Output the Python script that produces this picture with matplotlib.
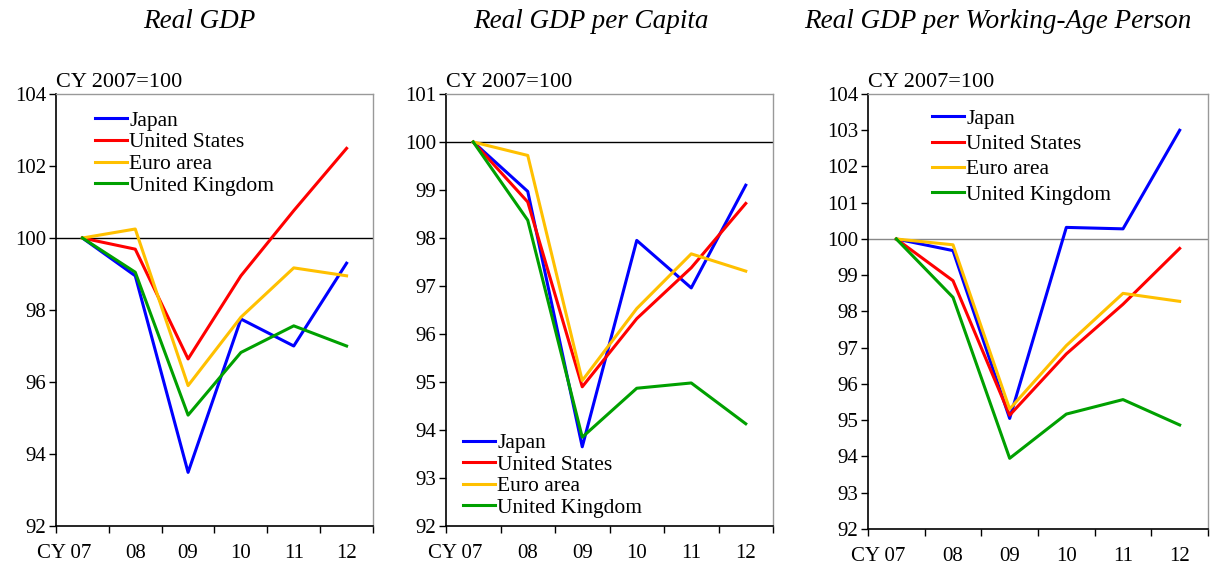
import matplotlib
matplotlib.use("Agg")
import matplotlib.pyplot as plt
import matplotlib.transforms as mtransforms
from matplotlib.ticker import MultipleLocator, FixedLocator

plt.rcParams['font.family'] = ['Liberation Serif', 'DejaVu Serif']

years = ["CY 07", "08", "09", "10", "11", "12"]
countries = ["Japan", "United States", "Euro area", "United Kingdom"]
colors = ["#0000FF", "#FF0000", "#FFC000", "#00A000"]

# Real GDP
gdp = {
    "Japan":          [100, 98.95, 93.49, 97.75, 97.00, 99.30],
    "United States":  [100, 99.69, 96.64, 98.95, 100.76, 102.49],
    "Euro area":      [100, 100.25, 95.90, 97.80, 99.17, 98.95],
    "United Kingdom": [100, 99.05, 95.08, 96.82, 97.56, 97.00],
}
# Real GDP per capita
gdp_pc = {
    "Japan":          [100, 98.97, 93.65, 97.95, 96.96, 99.10],
    "United States":  [100, 98.75, 94.90, 96.32, 97.38, 98.72],
    "Euro area":      [100, 99.72, 95.03, 96.53, 97.67, 97.31],
    "United Kingdom": [100, 98.37, 93.85, 94.87, 94.98, 94.13],
}
# Real GDP per working-age person
gdp_wa = {
    "Japan":          [100, 99.68, 95.05, 100.32, 100.28, 103.00],
    "United States":  [100, 98.85, 95.14, 96.83, 98.20, 99.74],
    "Euro area":      [100, 99.84, 95.31, 97.06, 98.50, 98.28],
    "United Kingdom": [100, 98.39, 93.95, 95.17, 95.57, 94.87],
}

titles = ["Real GDP", "Real GDP per Capita", "Real GDP per Working-Age Person"]
title_x = [199, 591, 998]
panels = [gdp, gdp_pc, gdp_wa]
ylims = [(92, 104), (92, 101), (92, 104)]
ysteps = [2, 1, 1]
base_colors = ["black", "black", "#888888"]
rects = [
    [56 / 1210, 44 / 570, 317 / 1210, 432 / 570],
    [446 / 1210, 44 / 570, 327 / 1210, 432 / 570],
    [868 / 1210, 41 / 570, 340 / 1210, 435 / 570],
]
legend_locs = [
    dict(loc="upper left", bbox_to_anchor=(0.123, 0.961), labelspacing=0.07),
    dict(loc="lower left", bbox_to_anchor=(0.052, 0.019), labelspacing=0.07),
    dict(loc="upper left", bbox_to_anchor=(0.188, 0.966), labelspacing=0.24),
]

fig = plt.figure(figsize=(12.1, 5.7), dpi=100)

for i, data in enumerate(panels):
    ax = fig.add_axes(rects[i])
    x = list(range(len(years)))
    for name, c in zip(countries, colors):
        ax.plot(x, data[name], color=c, lw=2.2, label=name)
    ax.axhline(100, color=base_colors[i], lw=1.0, zorder=1)

    ax.set_xlim(-0.5, len(years) - 0.5)
    ax.set_ylim(*ylims[i])
    ax.yaxis.set_major_locator(MultipleLocator(ysteps[i]))
    ax.xaxis.set_major_locator(FixedLocator([k - 0.5 for k in range(len(years) + 1)]))
    ax.xaxis.set_minor_locator(FixedLocator(x))
    ax.set_xticklabels([])
    ax.set_xticklabels(years, minor=True)
    ax.tick_params(axis="x", which="major", direction="out", length=5, width=1)
    ax.tick_params(axis="x", which="minor", length=0, pad=13, labelsize=15)
    ax.tick_params(axis="y", direction="out", length=5, width=1, labelsize=15, pad=2)

    # shift "CY 07" so that "07" sits under the first point
    lbl = ax.xaxis.get_minorticklabels()[0]
    lbl.set_transform(lbl.get_transform() +
                      mtransforms.ScaledTranslation(-13 / 72, 0, fig.dpi_scale_trans))

    for side in ["left", "bottom"]:
        ax.spines[side].set_color("black")
        ax.spines[side].set_linewidth(1.2)
    for side in ["top", "right"]:
        ax.spines[side].set_color("#999999")
        ax.spines[side].set_linewidth(1.0)

    ax.text(0.0, 1.005, "CY 2007=100", transform=ax.transAxes,
            ha="left", va="bottom", fontsize=16)

    ax.legend(frameon=False, fontsize=15.5, handlelength=1.5, handletextpad=0.1,
              borderpad=0, borderaxespad=0, **legend_locs[i])

    fig.text(title_x[i] / 1210, 1 - 22 / 570, titles[i], ha="center", va="center",
             fontsize=19.5, style="italic")

fig.savefig("out.png", dpi=100)
